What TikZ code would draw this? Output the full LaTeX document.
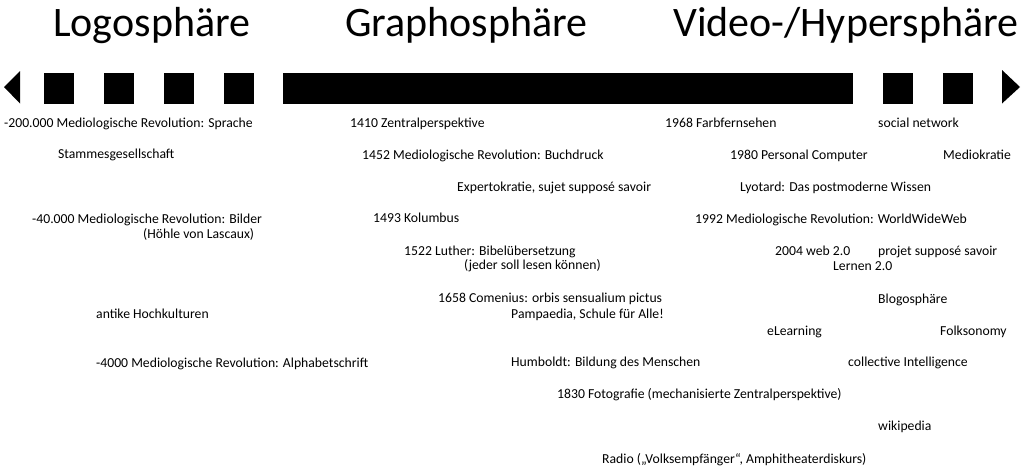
\documentclass[tikz,border=0pt]{standalone}
\usepackage{fontspec}
\setmainfont{Carlito}
\begin{document}
\begin{tikzpicture}[x=1pt,y=-1pt,
  lbl/.style={anchor=base west,inner sep=0pt,font=\fontsize{13.7}{16}\selectfont},
  ttl/.style={anchor=base west,inner sep=0pt,font=\fontsize{42}{48}\selectfont},
  blk/.style={fill=black,draw=none}]
\useasboundingbox[fill=white] (0,0) rectangle (1024,472);
% titles
\node[ttl] (t1) at (53,36) {Logosphäre};
\node[ttl] (t2) at (345,36) {Graphosphäre};
\node[ttl] (t3) at (673,36) {Video-/Hypersphäre};
% timeline bar
\fill[blk] (4,87) -- (20,71) -- (20,103.5) -- cycle;
\foreach \a in {44,104,164,224}{\fill[blk] (\a,73) rectangle ++(29.5,30.5);}
\fill[blk] (283,73) rectangle (853,103.5);
\foreach \a in {883,943}{\fill[blk] (\a,73) rectangle ++(30,30.5);}
\fill[blk] (1020,87) -- (1002,70) -- (1002,103.5) -- cycle;
% labels
\node[lbl] (a1) at (4,127) {-200.000 Mediologische Revolution: Sprache};
\node[lbl] (a2) at (58,158) {Stammesgesellschaft};
\node[lbl] (a3) at (32,223) {-40.000 Mediologische Revolution: Bilder};
\node[lbl] (a4) at (143,238) {(Höhle von Lascaux)};
\node[lbl] (a5) at (96,318) {antike Hochkulturen};
\node[lbl] (a6) at (96,367) {-4000 Mediologische Revolution: Alphabetschrift};
\node[lbl] (b1) at (350,127) {1410 Zentralperspektive};
\node[lbl] (b2) at (362,159) {1452 Mediologische Revolution: Buchdruck};
\node[lbl] (b3) at (457,191) {Expertokratie, sujet supposé savoir};
\node[lbl] (b4) at (373,222) {1493 Kolumbus};
\node[lbl] (b5) at (404,255) {1522 Luther: Bibelübersetzung};
\node[lbl] (b6) at (464,269) {(jeder soll lesen können)};
\node[lbl] (b7) at (438,302) {1658 Comenius: orbis sensualium pictus};
\node[lbl] (b8) at (511,318) {Pampaedia, Schule für Alle!};
\node[lbl] (b9) at (511,366) {Humboldt: Bildung des Menschen};
\node[lbl] (b10) at (557,398) {1830 Fotografie (mechanisierte Zentralperspektive)};
\node[lbl] (b11) at (602,463) {Radio („Volksempfänger“, Amphitheaterdiskurs)};
\node[lbl] (c1) at (665,127) {1968 Farbfernsehen};
\node[lbl] (c2) at (730,159) {1980 Personal Computer};
\node[lbl] (c3) at (740,191) {Lyotard: Das postmoderne Wissen};
\node[lbl] (c4) at (695,223) {1992 Mediologische Revolution: WorldWideWeb};
\node[lbl] (c5) at (775,255) {2004 web 2.0};
\node[lbl] (c6) at (833,270) {Lernen 2.0};
\node[lbl] (c7) at (767,335) {eLearning};
\node[lbl] (d1) at (878,127) {social network};
\node[lbl] (d2) at (943,159) {Mediokratie};
\node[lbl] (d3) at (878,255) {projet supposé savoir};
\node[lbl] (d4) at (878,303) {Blogosphäre};
\node[lbl] (d5) at (940,335) {Folksonomy};
\node[lbl] (d6) at (848,366) {collective Intelligence};
\node[lbl] (d7) at (878,430) {wikipedia};
\end{tikzpicture}
\end{document}
